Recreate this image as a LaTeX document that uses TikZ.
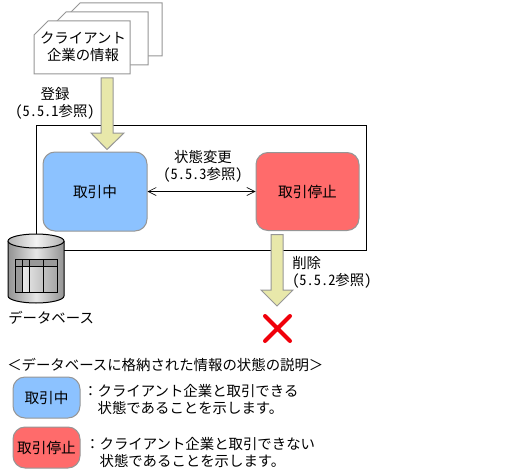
\documentclass[tikz,border=0pt]{standalone}
\usepackage{fontspec}
\setmainfont{Noto Sans CJK JP}
\newfontfamily\hw[RawFeature=+hwid]{Noto Sans CJK JP}
\usetikzlibrary{arrows.meta,shapes.geometric}
\definecolor{bluebox}{RGB}{140,194,255}
\definecolor{redbox}{RGB}{255,107,107}
\definecolor{arrowfill}{RGB}{232,232,170}
\definecolor{edgegray}{RGB}{150,150,150}
\definecolor{xred}{RGB}{240,0,10}
\tikzset{
  sheet/.style={draw=edgegray,fill=white,line width=0.75pt},
  statebox/.style={draw=edgegray,line width=0.75pt,rounded corners=9pt,inner sep=0pt,font=\fontsize{11pt}{12.75pt}\selectfont,text=black},
  blockarrow/.style={draw=edgegray,fill=arrowfill,line width=0.75pt},
  lbl/.style={font=\fontsize{10.8pt}{12.75pt}\selectfont,align=center,inner sep=0pt,text=black},
  lleft/.style={lbl,align=left,anchor=west},
}
\begin{document}
\begin{tikzpicture}[x=0.75pt,y=-0.75pt]
\useasboundingbox (0,0) rectangle (509,474);
% sheets
\draw[sheet] (80,3) -- (162,3) -- (162,56) -- (66,56) -- (66,17) -- cycle;
\draw[sheet] (66,12) -- (148,12) -- (148,65) -- (52,65) -- (52,26) -- cycle;
\draw[sheet] (48,21) -- (130,21) -- (130,74) -- (34,74) -- (34,35) -- cycle;
\node[lbl] (client) at (83,46.5) {クライアント\\企業の情報};
% frame
\node[draw=black,line width=0.75pt,minimum width=330*0.75pt,minimum height=125*0.75pt,inner sep=0pt,anchor=north west] (frame) at (36,125) {};
% arrow 1
\draw[blockarrow] (101,78) -- (113,78) -- (113,133) -- (124,133) -- (107,149.5) -- (91,133) -- (101,133) -- cycle;
\node[lbl] (reg) at (55,103.5) {登録\\{\hw (5.5.1}参照{\hw )}};
% state boxes
\node[statebox,fill=bluebox,minimum width=104*0.75pt,minimum height=79*0.75pt] (a) at (95,191.5) {取引中};
\node[statebox,fill=redbox,minimum width=103*0.75pt,minimum height=78*0.75pt] (b) at (307.5,191.5) {取引停止};
\draw[{Straight Barb[length=6pt,width=6pt]}-{Straight Barb[length=6pt,width=6pt]},line width=0.5pt] (a) -- (b);
\node[lbl] (chg) at (203,166) {状態変更\\{\hw (5.5.3}参照{\hw )}};
% arrow 2
\draw[blockarrow] (271,234.5) -- (283,234.5) -- (283,290) -- (293,290) -- (277,306) -- (261,290) -- (271,290) -- cycle;
\node[lleft] (del) at (292,272.5) {削除\\{\hw (5.5.2}参照{\hw )}};
% X
\draw[xred,line width=3pt,line cap=round] (265,316) -- (290,341) (290,316) -- (265,341);
% cylinder
\shade[left color=gray!85,right color=gray!85,middle color=gray!20] (8,241) -- (8,296) arc[start angle=180,end angle=0,x radius=28,y radius=7] -- (64,241) arc[start angle=0,end angle=-180,x radius=28,y radius=7];
\draw[black,line width=0.75pt] (8,241) -- (8,296) arc[start angle=180,end angle=0,x radius=28,y radius=7] -- (64,241);
\shade[left color=gray!60,right color=gray!60,middle color=gray!10] (36,241) ellipse[x radius=28,y radius=7];
\draw[black,line width=0.75pt] (36,241) ellipse[x radius=28,y radius=7];
% table
\fill[gray!80] (15,259) rectangle (57,266);
\fill[gray!80] (15,266) rectangle (22,292);
\shade[left color=gray!15,right color=gray!70] (22,266) rectangle (57,292);
\draw[black,line width=0.75pt] (15,259) rectangle (57,292) (15,266) -- (57,266) (22,259) -- (22,292) (29,259) -- (29,292) (43,259) -- (43,292);
\node[lleft] (db) at (8,318) {データベース};
% legend
\node[lleft] (ltitle) at (7,365) {＜データベースに格納された情報の状態の説明＞};
\node[statebox,fill=bluebox,minimum width=67*0.75pt,minimum height=41*0.75pt] (la) at (46.5,397.5) {取引中};
\node[statebox,fill=redbox,minimum width=67*0.75pt,minimum height=41*0.75pt] (lb) at (46.5,447.5) {取引停止};
\node[lleft] (lat) at (83,399.5) {：クライアント企業と取引できる\\\hspace*{1em}状態であることを示します。};
\node[lleft] (lbt) at (85,452.5) {：クライアント企業と取引できない\\\hspace*{1em}状態であることを示します。};
\end{tikzpicture}
\end{document}
